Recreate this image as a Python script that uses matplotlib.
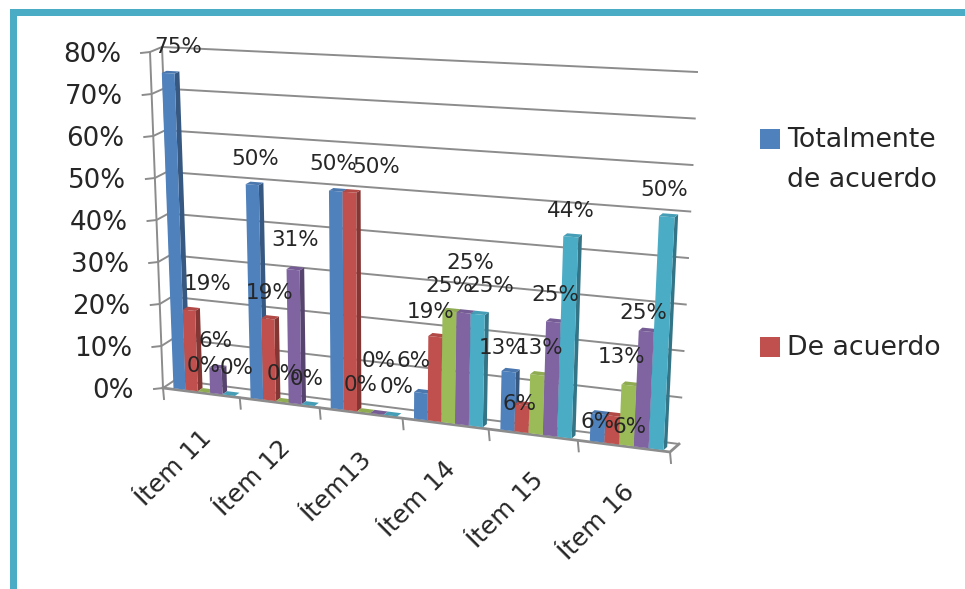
import numpy as np
import matplotlib
matplotlib.use("Agg")
import matplotlib.pyplot as plt
from matplotlib.patches import Polygon, Rectangle
from matplotlib.colors import to_rgb

categories = ["Ítem 11", "Ítem 12", "Ítem13", "Ítem 14", "Ítem 15", "Ítem 16"]
totalmente = [75, 50, 50, 6, 13, 6]
de_acuerdo = [19, 19, 50, 19, 6, 6]
serie_3 = [0, 0, 0, 25, 13, 13]
serie_4 = [6, 31, 0, 25, 25, 25]
serie_5 = [0, 0, 0, 25, 44, 50]
series = [totalmente, de_acuerdo, serie_3, serie_4, serie_5]
colors = ["#4f81bd", "#c0504d", "#9bbb59", "#8064a2", "#4bacc6"]
y_ticks = [0, 10, 20, 30, 40, 50, 60, 70, 80]

# label offsets from the top of each bar, one row per series
label_dx = [[7, 0, -5, -10, -9, -3],
            [16, -1, 24, -7, -5, 14],
            [-3, -1, 12, -3, 0, -10],
            [-2, 0, -19, 4, -1, -5],
            [5, -4, 4, 10, -2, -5]]
label_dy = [[-29, -28, -30, -34, -26, 5],
            [-29, -28, -28, -27, -4, 9],
            [-29, -30, -54, -28, -29, -31],
            [-30, -32, -31, -52, -30, -21],
            [-30, -29, -31, -31, -28, -29]]

# corners of the 3d box in pixels: [depth][right][top]
box = np.array([[[(163, 388), (150, 52)], [(670, 452), (688, 79)]],
                [[(175, 380), (162, 47)], [(679, 444), (697, 72)]]], dtype=float)
PERSP = 0.11
VMAX = 80.0


def project(pos, depth, value):
    # pos is in categories from the left wall, depth 0..1, value in percent
    t = pos / len(categories)
    u = t + PERSP * t * (t - 1)
    v = value / VMAX
    bottom = (1 - depth) * ((1 - u) * box[0, 0, 0] + u * box[0, 1, 0]) + depth * ((1 - u) * box[1, 0, 0] + u * box[1, 1, 0])
    top = (1 - depth) * ((1 - u) * box[0, 0, 1] + u * box[0, 1, 1]) + depth * ((1 - u) * box[1, 0, 1] + u * box[1, 1, 1])
    return (1 - v) * bottom + v * top


def shade(color, k):
    return tuple(c * k for c in to_rgb(color))


fig = plt.figure(figsize=(9.65, 5.89), dpi=100)
ax = fig.add_axes([0, 0, 1, 1])
ax.set_xlim(0, 965)
ax.set_ylim(589, 0)
ax.axis("off")
plt.rcParams["font.family"] = "DejaVu Sans"

# frame
ax.add_patch(Rectangle((10, 9), 955, 7, fc="#4bacc6", ec="none"))
ax.add_patch(Rectangle((10, 9), 7, 580, fc="#4bacc6", ec="none"))

GRID = "#8c8c8c"
TEXT = "#262626"
n = len(categories)

# walls
for val in y_ticks:
    pts = [project(0, 0, val), project(0, 1, val), project(n, 1, val)]
    tick = pts[0] + np.array([-9, 1])
    xs = [tick[0]] + [p[0] for p in pts]
    ys = [tick[1]] + [p[1] for p in pts]
    ax.plot(xs, ys, color=GRID, lw=1.4, solid_joinstyle="round")
    p = project(0, 0, val)
    ax.text(p[0] - 29, p[1] + 3, f"{val}%", ha="right", va="center", fontsize=18.8, color=TEXT)

# vertical edges and floor
for d in [0, 1]:
    a, b = project(0, d, 0), project(0, d, 80)
    ax.plot([a[0], b[0]], [a[1], b[1]], color=GRID, lw=1.4)
floor = [project(0, 0, 0), project(n, 0, 0), project(n, 1, 0)]
ax.plot([p[0] for p in floor], [p[1] for p in floor], color=GRID, lw=2)
for k in range(n + 1):
    a = project(k, 0, 0)
    ax.plot([a[0], a[0] + 1], [a[1], a[1] + 11], color=GRID, lw=1.4)

# bars
BAR_START = 0.12
BAR_W = 0.16
D0, D1 = 0.12, 0.52
tops = {}
for c in range(n):
    for s, values in enumerate(series):
        val = values[c]
        x0 = c + BAR_START + s * BAR_W
        x1 = x0 + BAR_W
        col = colors[s]
        front = [project(x0, D0, 0), project(x1, D0, 0), project(x1, D0, val), project(x0, D0, val)]
        side = [project(x1, D0, 0), project(x1, D1, 0), project(x1, D1, val), project(x1, D0, val)]
        top = [project(x0, D0, val), project(x1, D0, val), project(x1, D1, val), project(x0, D1, val)]
        ax.add_patch(Polygon(side, fc=shade(col, 0.68), ec="none", zorder=3))
        ax.add_patch(Polygon(front, fc=col, ec="none", zorder=3))
        ax.add_patch(Polygon(top, fc=shade(col, 0.92), ec="none", zorder=3))
        tops[(c, s)] = project((x0 + x1) / 2, D0, val)

# data labels
for s, values in enumerate(series):
    for c in range(n):
        p = tops[(c, s)]
        ax.text(p[0] + label_dx[s][c] + 2.5, p[1] + label_dy[s][c] + 2.5, f"{values[c]}%", ha="center", va="center",
                fontsize=15.5, color=TEXT, zorder=5)

# category labels
for c, name in enumerate(categories):
    p = project(c + 0.5, 0, 0)
    ax.text(p[0] + 7, p[1] + 42, name, rotation=45, rotation_mode="anchor", ha="right", va="center",
            fontsize=17.8, color=TEXT)

# legend, only the first two entries fit
ax.add_patch(Rectangle((760, 129), 20, 20, fc=colors[0], ec="none"))
ax.add_patch(Rectangle((760, 337), 20, 20, fc=colors[1], ec="none"))
ax.text(787, 140, "Totalmente", va="center", fontsize=19.3, color=TEXT)
ax.text(787, 180, "de acuerdo", va="center", fontsize=19.3, color=TEXT)
ax.text(787, 348, "De acuerdo", va="center", fontsize=19.3, color=TEXT)

fig.savefig("out.png", dpi=100)
